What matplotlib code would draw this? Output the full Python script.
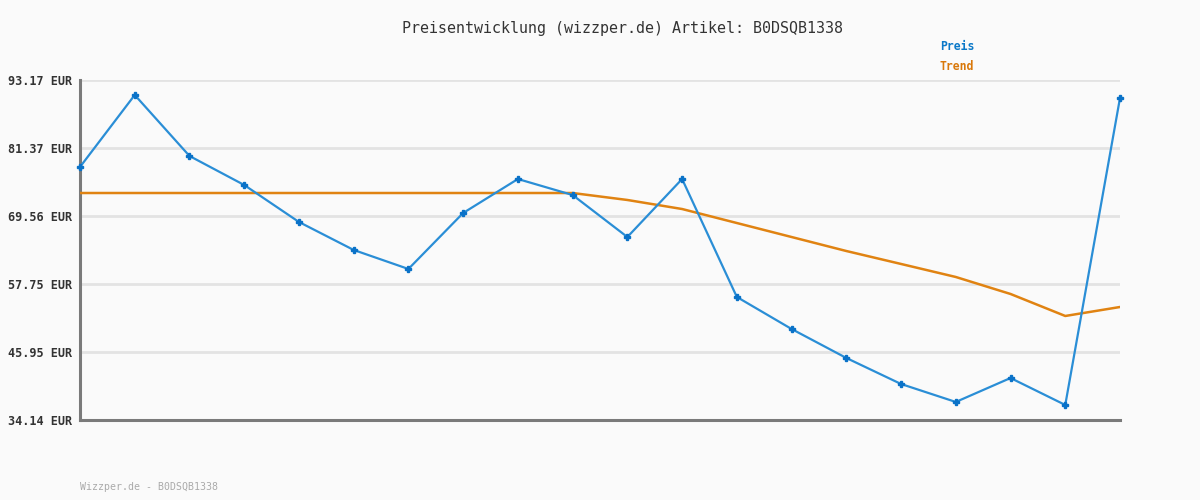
import matplotlib.pyplot as plt
import numpy as np

# Werte
yticks = [34.14, 45.95, 57.75, 69.56, 81.37, 93.17]
preis = [78.07, 90.57, 79.98, 74.94, 68.52, 63.66, 60.36, 70.08, 75.98, 73.20,
         65.91, 75.98, 55.50, 49.94, 44.91, 40.39, 37.27, 41.43, 36.75, 90.05]
trend = [73.55, 73.55, 73.55, 73.55, 73.55, 73.55, 73.55, 73.55, 73.55, 73.55,
         72.34, 70.77, 68.34, 65.91, 63.48, 61.23, 58.97, 56.02, 52.20, 53.76]

bg = '#fafafa'
mono = 'DejaVu Sans Mono'

fig = plt.figure(figsize=(12, 5), dpi=100, facecolor=bg)
ax = fig.add_axes([80 / 1200, 80 / 500, 1040 / 1200, 340 / 500], facecolor=bg)

x = np.arange(len(preis))
ax.plot(x, trend, color='#e08312', lw=1.8, zorder=3)
ax.plot(x, preis, color='#2a8ed6', lw=1.6, marker='P', ms=4.5,
        mfc='#0a72c8', mec='#0a72c8', zorder=4, clip_on=False)

ax.set_xlim(0, len(preis) - 1)
ax.set_ylim(yticks[0], yticks[-1])
ax.set_yticks(yticks)
ax.set_yticklabels([f'{v:.2f} EUR' for v in yticks], fontfamily=mono,
                   fontweight='bold', fontsize=8.5, color='#333333')
ax.set_xticks([])
ax.tick_params(axis='y', length=0, pad=5.5)
ax.grid(axis='y', color='#e3e3e3', lw=2)
ax.set_axisbelow(True)

for s in ['top', 'right']:
    ax.spines[s].set_visible(False)
for s in ['left', 'bottom']:
    ax.spines[s].set_color('#7a7a7a')
    ax.spines[s].set_linewidth(2.2)

fig.text(623 / 1200, 1 - 28 / 500, 'Preisentwicklung (wizzper.de) Artikel: B0DSQB1338',
         ha='center', va='center', fontfamily=mono, fontsize=10.8, color='#333333')
fig.text(940 / 1200, 1 - 47 / 500, 'Preis', ha='left', va='center',
         fontfamily=mono, fontweight='bold', fontsize=8.3, color='#0a78c8')
fig.text(940 / 1200, 1 - 67 / 500, 'Trend', ha='left', va='center',
         fontfamily=mono, fontweight='bold', fontsize=8.3, color='#d9780a')
fig.text(80 / 1200, 1 - 487 / 500, 'Wizzper.de - B0DSQB1338', ha='left', va='center',
         fontfamily=mono, fontsize=7.1, color='#aaaaaa')

fig.savefig('out.png', dpi=100, facecolor=bg)
